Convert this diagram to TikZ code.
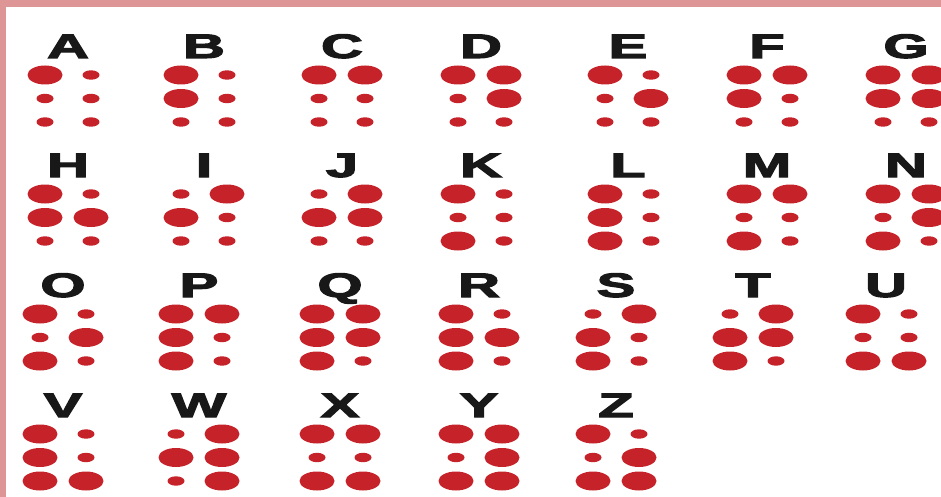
\documentclass[tikz,border=0pt]{standalone}
\usepackage{fontspec}
\newfontfamily\letterfont{Liberation Sans}[BoldFeatures={FakeBold=3}]
\usepackage{tikz}

\definecolor{framepink}{RGB}{221,149,150}
\definecolor{dotred}{RGB}{198,34,42}
\definecolor{inkblack}{RGB}{24,24,24}

\begin{document}
\begin{tikzpicture}[x=1pt, y=-1pt,
	letter/.style={anchor=base, inner sep=0pt, xscale=1.7, text=inkblack,
		font=\letterfont\bfseries\fontsize{34}{34}\selectfont},
	bigdot/.style={fill=dotred, x radius=17.5, y radius=9.5},
	smalldot/.style={fill=dotred, x radius=8.5, y radius=4.7}]
	\useasboundingbox (0,0) rectangle (941,497);
	\fill[framepink] (0,0) rectangle (941,497);
	\fill[white] (6,7) rectangle (941,497);
	% letter / column / row / raised dots
	\foreach \ch/\c/\r/\raised in {A/0/0/{1}, B/1/0/{1,2}, C/2/0/{1,4}, D/3/0/{1,4,5},
		E/4/0/{1,5}, F/5/0/{1,2,4}, G/6/0/{1,2,4,5},
		H/0/1/{1,2,5}, I/1/1/{2,4}, J/2/1/{2,4,5}, K/3/1/{1,3}, L/4/1/{1,2,3},
		M/5/1/{1,3,4}, N/6/1/{1,3,4,5},
		O/0/2/{1,3,5}, P/1/2/{1,2,3,4}, Q/2/2/{1,2,3,4,5}, R/3/2/{1,2,3,5},
		S/4/2/{2,3,4}, T/5/2/{2,3,4,5}, U/6/2/{1,3,6},
		V/0/3/{1,2,3,6}, W/1/3/{2,4,5,6}, X/2/3/{1,3,4,6}, Y/3/3/{1,3,4,5,6},
		Z/4/3/{1,3,5,6}} {
		\pgfmathsetmacro\xa{{45,181,319,458,605,744,883}[\c]}
		\pgfmathsetmacro\xb{{40,176,317,456,593,730,863}[\c]}
		\pgfmathsetmacro\xl{\r<2 ? \xa : \xb}
		\pgfmathsetmacro\yb{{58,177,297,417}[\r]}
		\node[letter] (let\ch) at (\xl+23,\yb) {\ch};
		\foreach \k in {1,...,6} {
			\pgfmathsetmacro\dx{\k>3 ? 46 : 0}
			\pgfmathsetmacro\dy{17+23.5*mod(\k-1,3)}
			\fill[smalldot] (\xl+\dx,\yb+\dy) ellipse [];
		}
		\foreach \k in \raised {
			\pgfmathsetmacro\dx{\k>3 ? 46 : 0}
			\pgfmathsetmacro\dy{17+23.5*mod(\k-1,3)}
			\fill[bigdot] (\xl+\dx,\yb+\dy) ellipse [];
		}
	}
\end{tikzpicture}
\end{document}
